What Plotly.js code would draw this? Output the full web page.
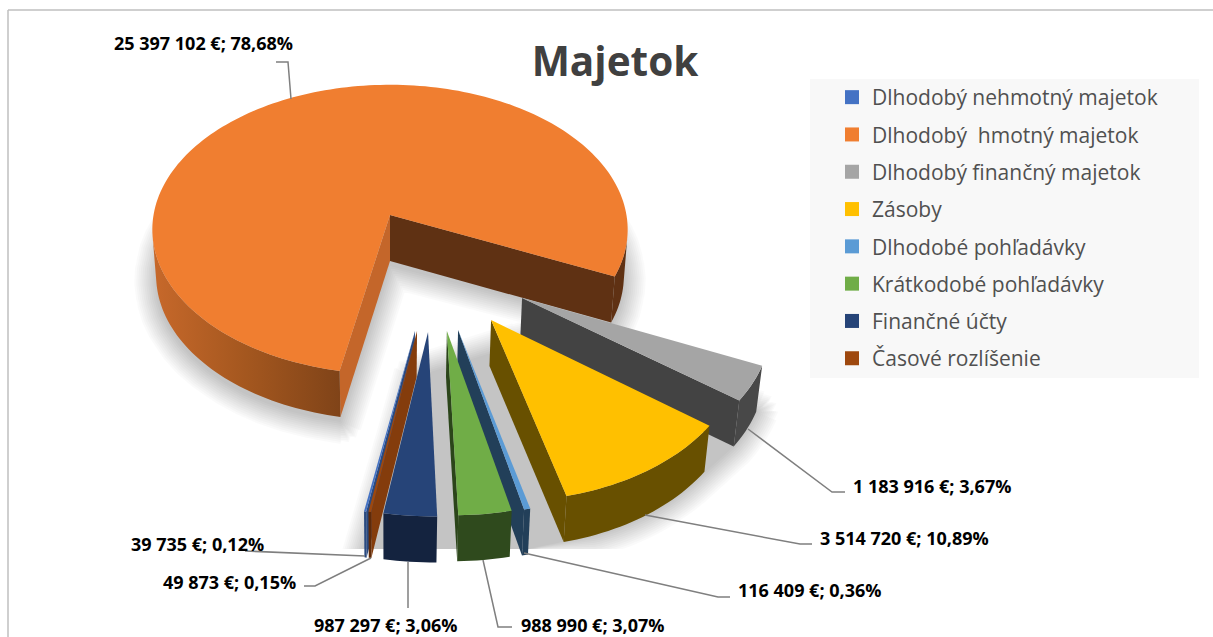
<!DOCTYPE html>
<html><head><meta charset="utf-8">
<script src="https://cdn.plot.ly/plotly-3.0.1.min.js"></script>
<style>html,body{margin:0;padding:0;background:#fff}</style></head>
<body><div id="chart" style="width:1213px;height:637px"></div>
<script>
// ---------- data ----------
const categories = ['Dlhodobý nehmotný majetok','Dlhodobý\u00a0 hmotný majetok','Dlhodobý finančný majetok','Zásoby','Dlhodobé pohľadávky','Krátkodobé pohľadávky','Finančné účty','Časové rozlíšenie'];
const values = [39735,25397102,1183916,3514720,116409,988990,987297,49873];
const dataLabels = ['39 735 €; 0,12%','25 397 102 €; 78,68%','1 183 916 €; 3,67%','3 514 720 €; 10,89%','116 409 €; 0,36%','988 990 €; 3,07%','987 297 €; 3,06%','49 873 €; 0,15%'];
// ---------- styles ----------
const topColors = ['#4472c4','#f07e30','#a5a5a5','#ffc000','#5b9bd5','#70ad47','#264478','#9e480e'];
const startFace = ['#2a4a80','#c4662a','#434343','#685000','#223f59','#2f4a1d','#14233f','#843c0c'];
const endFace   = ['#2a4a80','#5f3113','#434343','#685000','#223f59','#2b451a','#14233f','#843c0c'];
const wallColors= ['#2a4a80','#5f3113','#484848','#685000','#223f59','#2f4a1d','#14233f','#5f2a08'];
// ---------- pie geometry ----------
const firstAngle = 190.63, cx = 390, cy = 215, R = 236, Rt = 143, persp = 0.1, depth = 46, lean = 0.984;
const radii = [0.985,1.002,0.985,0.985,0.985,0.985,0.985,0.985];
const explodeU = [0.098,0,0.529,0.399,0.267,0.223,0.149,0.106];
const explodeV = [-0.75,0,-0.548,-0.684,-0.744,-0.75,-0.756,-0.75];
const drawOrder = [1,2,3,0,7,6,4,5];
const shadowClip = 549;
const mainSlice = 1;
// ---------- labels ----------
const labelX = [197,203,932,904,809,592,385,229];
const labelY = [544,43,486,538,590,625,625,582];
const leaderX = [[245,300,365],[276,288,291],[748,832,845],[645,800,812],[524,718,730],[483,498,512],[408,408],[371,315,304]];
const leaderY = [[551,553,556],[62,62,99],[429,492,492],[515,544,544],[553,597,597],[560,627,627],[562,608],[558,586,586]];

const total = values.reduce((a,b)=>a+b,0);
const rad = d => d*Math.PI/180;
const proj = (u,v) => { const s = 1/(1+persp*v); return [cx+R*u*s, cy-Rt*v*s]; };
const lower = p => [cx+(p[0]-cx)*lean, p[1]+depth];
const area = q => { let a=0; for(let i=0;i<q.length;i++){const n=q[(i+1)%q.length]; a+=q[i][0]*n[1]-n[0]*q[i][1];} return a; };
const xs = q => q.map(p=>p[0]), ys = q => q.map(p=>p[1]);
const poly = (q,color,name) => ({type:'scatter',mode:'none',x:xs(q),y:ys(q),fill:'toself',fillcolor:color,hoverinfo:'skip',showlegend:false,name:name});
const hull = pts => {
  const p = pts.slice().sort((a,b)=>a[0]-b[0]||a[1]-b[1]);
  const cross=(o,a,b)=>(a[0]-o[0])*(b[1]-o[1])-(a[1]-o[1])*(b[0]-o[0]);
  const lo=[],up=[];
  p.forEach(q=>{while(lo.length>1&&cross(lo[lo.length-2],lo[lo.length-1],q)<=0)lo.pop();lo.push(q);});
  p.slice().reverse().forEach(q=>{while(up.length>1&&cross(up[up.length-2],up[up.length-1],q)<=0)up.pop();up.push(q);});
  return lo.slice(0,-1).concat(up.slice(0,-1));
};

// slices
let ang = firstAngle;
const slices = values.map((v,i)=>{
  const a0 = ang, a1 = ang + v/total*360; ang = a1;
  const n = Math.max(2, Math.ceil((a1-a0)/1.5)+1);
  const u0 = explodeU[i], v0 = explodeV[i], r = radii[i];
  const arc = [];
  for(let k=0;k<n;k++){ const a = rad(a0+(a1-a0)*k/(n-1)); arc.push(proj(u0+r*Math.sin(a), v0+r*Math.cos(a))); }
  return {apex:proj(u0,v0),arc,a0,a1};
});

// soft shadow: main slice outline and hull of the exploded slices, dilated in layers
const mainOutline = [slices[mainSlice].apex].concat(slices[mainSlice].arc.filter((p,k)=>k%4===0)).map(lower);
let explodedPts = [];
slices.forEach((s,i)=>{ if(i!==mainSlice) explodedPts = explodedPts.concat([s.apex],s.arc); });
const explodedHull = hull(explodedPts.map(lower));
const shadowTraces = [22,20,18,16,14,12,10,8,6,4,2,0].map(e=>{
  const X=[],Y=[];
  [mainOutline,explodedHull].forEach(outline=>{
    for(let d=0;d<(e?16:1);d++){
      const ox=e*Math.cos(d*Math.PI/8), oy=(outline===mainOutline?5:0)+e*Math.sin(d*Math.PI/8);
      outline.forEach(p=>{X.push(p[0]+ox);Y.push(Math.min(p[1]+oy,shadowClip));});
      X.push(outline[0][0]+ox);Y.push(Math.min(outline[0][1]+oy,shadowClip));
      X.push(null);Y.push(null);
    }
  });
  return {type:'scatter',mode:'none',x:X,y:Y,fill:'toself',fillcolor:'rgba(0,0,0,0.02)',hoverinfo:'skip',showlegend:false,connectgaps:false};
});

// faces
const faceTraces = [];
drawOrder.forEach(i=>{
  const s = slices[i], arc = s.arc, ap = s.apex;
  const quad = (p1,p2)=>[p1,p2,lower(p2),lower(p1)];
  const q1 = quad(ap,arc[0]), q2 = quad(arc[arc.length-1],ap);
  if(area(q2)<0) faceTraces.push(poly(q2,endFace[i],categories[i]));
  if(area(q1)<0) faceTraces.push(poly(q1,startFace[i],categories[i]));
  // outer wall: consecutive front-facing arc runs
  let run=[];
  const flush=()=>{
    if(run.length>1){
      const q = run.concat(run.slice().reverse().map(lower));
      const t = poly(q,wallColors[i],categories[i]);
      if(i===mainSlice && run[0][0]<cx+60){
        delete t.fillcolor;
        t.fillgradient={type:'horizontal',start:150,stop:342,colorscale:[[0,'#c8692b'],[0.5,'#a4571f'],[1,'#7f4318']]};
      }
      faceTraces.push(t);
    }
    run=[];
  };
  for(let k=0;k<arc.length-1;k++){
    if(area(quad(arc[k],arc[k+1]))<0){ if(!run.length) run.push(arc[k]); run.push(arc[k+1]); }
    else flush();
  }
  flush();
  faceTraces.push(poly([ap].concat(arc),topColors[i],categories[i]));
});

// leader lines
const lineX=[],lineY=[];
leaderX.forEach((a,i)=>{a.forEach((x,k)=>{lineX.push(x);lineY.push(leaderY[i][k]);});lineX.push(null);lineY.push(null);});
const leaderTrace={type:'scatter',mode:'lines',x:lineX,y:lineY,line:{color:'#7f7f7f',width:1.5},hoverinfo:'skip',showlegend:false};

// legend entries
const legendTraces = categories.map((c,i)=>({type:'scatter',mode:'markers',x:[null],y:[null],name:c,legendgroup:'g'+i,showlegend:true,
  marker:{symbol:'square',size:14,color:topColors[i]},hoverinfo:'skip'}));

const layout = {
  width:1213,height:637,margin:{l:0,r:0,t:0,b:0},paper_bgcolor:'#ffffff',plot_bgcolor:'#ffffff',
  xaxis:{range:[0,1213],visible:false,fixedrange:true},
  yaxis:{range:[637,0],visible:false,fixedrange:true},
  title:{text:'<b>Majetok</b>',x:615/1213,xanchor:'center',y:1-62/637,yanchor:'middle',font:{family:'Open Sans',size:40.5,color:'#404040'}},
  legend:{x:832/1213,y:1-77/637,xanchor:'left',yanchor:'top',bgcolor:'rgba(0,0,0,0)',tracegroupgap:7,font:{family:'Open Sans',size:21,color:'#505050'},itemclick:false,itemdoubleclick:false},
  shapes:[
    {type:'rect',xref:'x',yref:'y',x0:810,x1:1199,y0:79,y1:378,fillcolor:'#f8f8f8',line:{width:0},layer:'below'},
    {type:'line',xref:'x',yref:'y',x0:8,x1:8,y0:10,y1:637,line:{color:'#bfbfbf',width:1.5},layer:'below'},
    {type:'line',xref:'x',yref:'y',x0:8,x1:1213,y0:10,y1:10,line:{color:'#bfbfbf',width:1.5},layer:'below'}
  ],
  annotations:dataLabels.map((t,i)=>({x:labelX[i],y:labelY[i],xref:'x',yref:'y',text:'<b>'+t+'</b>',showarrow:false,xanchor:'center',yanchor:'middle',font:{family:'Open Sans',size:18,color:'#000000'}}))
};
Plotly.newPlot('chart',[...shadowTraces,...faceTraces,leaderTrace,...legendTraces],layout,{displayModeBar:false});
</script></body></html>
